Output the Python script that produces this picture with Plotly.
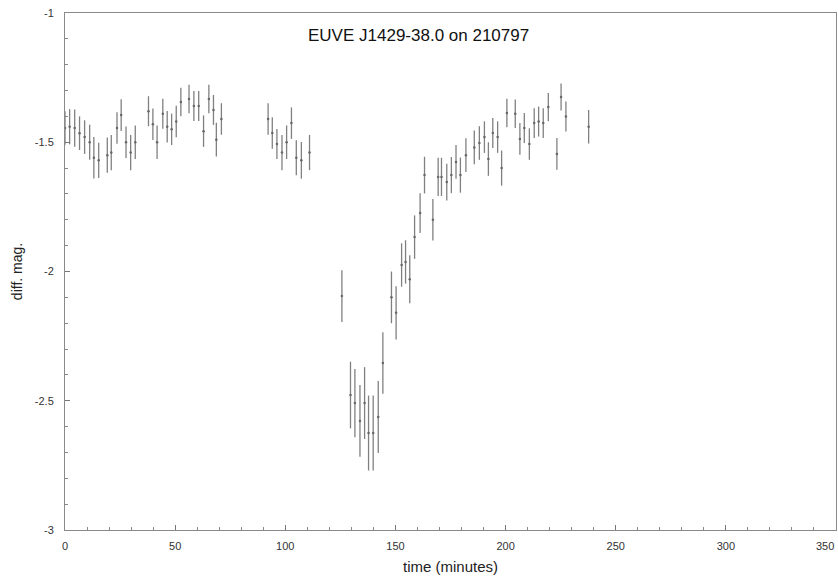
import plotly.graph_objects as go

time_min = [0.0, 2.1, 4.4, 6.6, 8.9, 11.2, 13.1, 15.3, 19.2, 21.0, 23.6, 25.5, 27.7, 29.8, 31.9,
            37.9, 39.9, 41.8, 44.4, 46.4, 48.4, 50.5, 52.6, 56.3, 58.5, 60.7, 62.9, 65.3, 67.4, 68.7, 71.0,
            92.2, 94.1, 96.2, 98.5, 100.6, 102.8, 105.0, 107.3, 111.0,
            125.7, 129.6, 131.6, 133.9, 136.0, 137.8, 139.9, 142.2, 144.3, 148.2, 150.3,
            152.8, 154.6, 156.5, 158.7, 161.2, 163.2, 167.0, 169.4, 170.9, 173.3, 175.4, 177.5, 179.5,
            182.0, 185.8, 188.1, 190.4, 192.2, 194.2, 196.4, 198.2, 200.6, 204.4, 206.5, 208.5, 210.8,
            213.0, 215.0, 217.1, 219.4, 223.3, 225.2, 227.4, 237.7]

diff_mag = [-1.445, -1.44, -1.445, -1.465, -1.48, -1.50, -1.56, -1.57, -1.55, -1.54, -1.445, -1.395, -1.50, -1.54, -1.50,
            -1.38, -1.43, -1.50, -1.39, -1.44, -1.45, -1.42, -1.344, -1.333, -1.36, -1.36, -1.457, -1.333, -1.375, -1.49, -1.41,
            -1.41, -1.464, -1.507, -1.54, -1.50, -1.426, -1.56, -1.57, -1.54,
            -2.095, -2.478, -2.509, -2.578, -2.509, -2.625, -2.625, -2.563, -2.354, -2.10, -2.16,
            -1.975, -1.963, -2.03, -1.867, -1.774, -1.627, -1.80, -1.634, -1.634, -1.654, -1.627, -1.576, -1.627,
            -1.55, -1.52, -1.503, -1.48, -1.565, -1.464, -1.48, -1.60, -1.387, -1.39, -1.487, -1.445, -1.507,
            -1.426, -1.42, -1.426, -1.364, -1.545, -1.325, -1.40, -1.44]

mag_err = [0.065, 0.068, 0.072, 0.065, 0.065, 0.068, 0.080, 0.068, 0.068, 0.068, 0.061, 0.061, 0.061, 0.068, 0.065,
           0.058, 0.061, 0.065, 0.058, 0.061, 0.061, 0.061, 0.055, 0.055, 0.058, 0.058, 0.061, 0.055, 0.058, 0.065, 0.061,
           0.061, 0.061, 0.058, 0.068, 0.065, 0.061, 0.068, 0.071, 0.068,
           0.100, 0.129, 0.132, 0.139, 0.139, 0.145, 0.145, 0.139, 0.119, 0.100, 0.103,
           0.084, 0.084, 0.093, 0.084, 0.077, 0.071, 0.080, 0.074, 0.074, 0.071, 0.070, 0.065, 0.068,
           0.065, 0.065, 0.065, 0.061, 0.065, 0.058, 0.061, 0.068, 0.055, 0.055, 0.061, 0.058, 0.061,
           0.058, 0.058, 0.058, 0.055, 0.061, 0.052, 0.058, 0.065]

x_ticks = [0, 50, 100, 150, 200, 250, 300, 350]
x_labels = ["0", "50", "100", "150", "200", "250", "300", ""]
x_last_label = "350"
y_ticks = [-3, -2.5, -2, -1.5, -1]
y_labels = ["-3", "-2.5", "-2", "-1.5", "-1"]

fig = go.Figure()
fig.add_trace(go.Scatter(
    x=time_min, y=diff_mag, mode="markers",
    marker=dict(size=2.5, color="#666666"),
    error_y=dict(type="data", array=mag_err, visible=True, width=0, thickness=1.3, color="#808080"),
    showlegend=False,
))

axis_common = dict(
    showline=True, linecolor="#8a8a8a", linewidth=1, mirror=True,
    showgrid=False, zeroline=False,
    ticks="inside", ticklen=5, tickcolor="#777777",
    automargin=False,
    tickfont=dict(family="Liberation Sans, Arial, sans-serif", size=11, color="#333333"),
)

fig.update_layout(
    width=838, height=580,
    margin=dict(l=65, r=2, t=13, b=50),
    paper_bgcolor="white", plot_bgcolor="white",
    font=dict(family="Liberation Sans, Arial, sans-serif", color="#222222"),
    xaxis=dict(range=[0, 350], tickvals=x_ticks, ticktext=x_labels, ticklabelstandoff=6,
               minor=dict(dtick=10, ticks="inside", ticklen=3, tickcolor="#888888"),
               title=dict(text="time (minutes)", font=dict(size=15, color="#222222"), standoff=10),
               **axis_common),
    yaxis=dict(range=[-3, -1], tickvals=y_ticks, ticktext=y_labels, ticklabelstandoff=8,
               minor=dict(dtick=0.1, ticks="inside", ticklen=3, tickcolor="#888888"),
               title=dict(text="diff. mag.", font=dict(size=14, color="#222222"), standoff=8),
               **axis_common),
    annotations=[
        dict(text="EUVE J1429-38.0 on 210797", xref="paper", yref="paper",
             x=0.458, y=0.978, showarrow=False,
             font=dict(size=17, color="#111111", family="Liberation Sans, Arial, sans-serif")),
        dict(text=x_last_label, xref="x", yref="paper", x=x_ticks[-1], y=0,
             xanchor="right", yanchor="top", yshift=-8, showarrow=False,
             font=dict(size=11, color="#333333", family="Liberation Sans, Arial, sans-serif")),
    ],
)

fig.write_html("out.html")
